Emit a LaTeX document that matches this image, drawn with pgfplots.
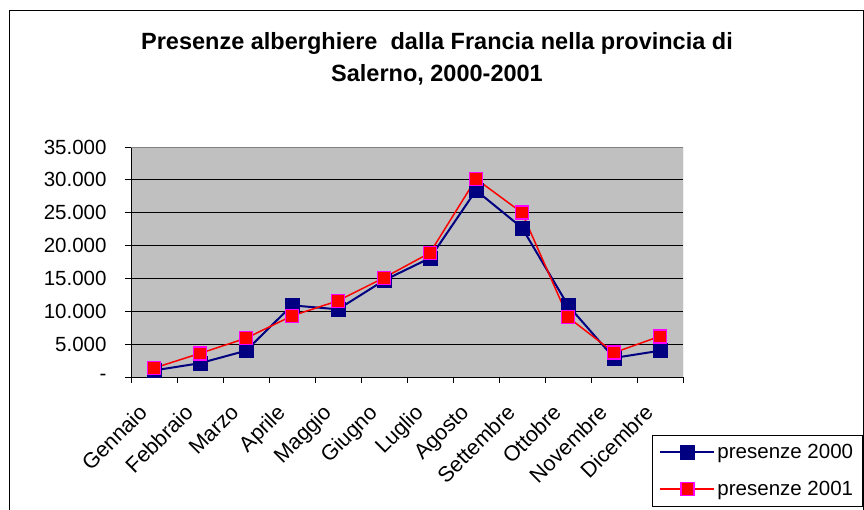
\documentclass[border=0pt]{standalone}
\usepackage{pgfplots}
\pgfplotsset{compat=1.18}
\usepackage{fontspec}
\setmainfont{Liberation Sans}
\definecolor{navyc}{RGB}{0,0,128}
\definecolor{plotgray}{RGB}{192,192,192}
\definecolor{magc}{RGB}{255,0,255}
\begin{document}
\begin{tikzpicture}[x=1pt,y=1pt]
\useasboundingbox (0,0) rectangle (864,510);
\clip (0,0) rectangle (864,510);
\fill[white] (0,0) rectangle (864,510);
\draw[black, line width=1pt] (9,-10) rectangle (863,499);
\node[font=\bfseries\fontsize{23.5}{32}\selectfont, align=center, anchor=center] at (437,451)
  {Presenze alberghiere\ \ dalla Francia nella provincia di\\Salerno, 2000-2001};
\begin{axis}[
  at={(131pt,133pt)}, anchor=south west, scale only axis,
  width=552pt, height=230pt,
  xmin=-0.5, xmax=11.5, ymin=0, ymax=35000,
  scaled y ticks=false,
  axis background/.style={fill=plotgray},
  axis lines*=left,
  axis line style={black, line width=0.8pt},
  ymajorgrids, major grid style={black, line width=0.8pt},
  ytick={0,5000,10000,15000,20000,25000,30000,35000},
  yticklabels={-,5.000,10.000,15.000,20.000,25.000,30.000,35.000},
  xtick={0,...,11},
  xticklabels={Gennaio,Febbraio,Marzo,Aprile,Maggio,Giugno,Luglio,Agosto,Settembre,Ottobre,Novembre,Dicembre},
  minor xtick={-0.5,0.5,...,11.5},
  major x tick style={draw=none},
  tick align=outside, major tick length=6pt, minor tick length=6pt,
  tick style={black, line width=0.8pt},
  ticklabel style={font=\fontsize{20.5}{24}\selectfont},
  yticklabel style={xshift=-15pt},
  xticklabel style={font=\fontsize{21.5}{24}\selectfont, rotate=45, anchor=north east, xshift=-22.5pt, yshift=1pt},
  legend style={at={(axis description cs:0.944,-0.252)}, anchor=north west,
    draw=black, fill=white, line width=0.8pt, font=\fontsize{20.5}{24}\selectfont,
    row sep=17pt, inner sep=7pt},
  legend cell align=left,
  legend image code/.code={\draw[mark repeat=2,mark phase=2] plot coordinates {(0pt,0pt) (27pt,0pt) (54pt,0pt)};},
]
\addplot[navyc, line width=2pt, mark=square*, mark size=7pt, mark options={fill=navyc, draw=navyc, line width=0.5pt}]
 coordinates {(0,1000) (1,2100) (2,4000) (3,10900) (4,10300) (5,14700) (6,18100) (7,28400) (8,22700) (9,10900) (10,2900) (11,4000)};
\addlegendentry{presenze 2000}
\addplot[red, line width=1.5pt, mark=square*, mark size=6.5pt, mark options={fill=red, draw=magc, line width=1.5pt}]
 coordinates {(0,1350) (1,3600) (2,5900) (3,9300) (4,11600) (5,15100) (6,18900) (7,30150) (8,25000) (9,9100) (10,3700) (11,6200)};
\addlegendentry{presenze 2001}
\draw[gray, line width=0.8pt] (axis description cs:0,1) -- (axis description cs:1,1) -- (axis description cs:1,0);
\end{axis}
\end{tikzpicture}
\end{document}
